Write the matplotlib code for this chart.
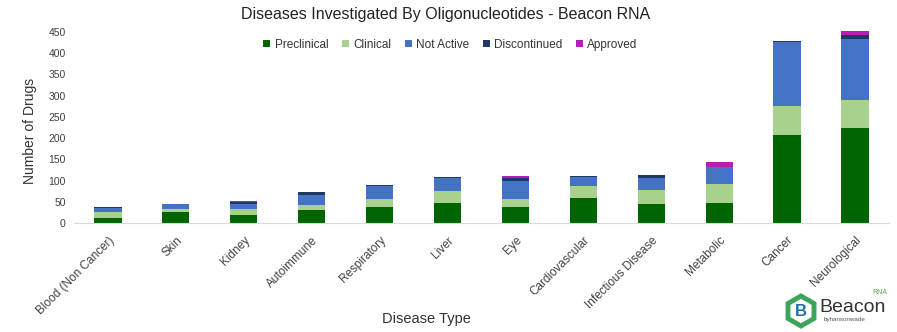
import numpy as np
import matplotlib.pyplot as plt
from matplotlib.patches import RegularPolygon

plt.rcParams['font.family'] = ['Liberation Sans', 'DejaVu Sans']

# data
diseases = ['Blood (Non Cancer)', 'Skin', 'Kidney', 'Autoimmune', 'Respiratory', 'Liver',
            'Eye', 'Cardiovascular', 'Infectious Disease', 'Metabolic', 'Cancer', 'Neurological']
preclinical = [12, 26, 20, 30, 38, 48, 39, 60, 44, 47, 207, 223]
clinical = [13, 8, 14, 13, 19, 27, 18, 27, 34, 44, 68, 67]
not_active = [11, 12, 12, 24, 30, 31, 43, 21, 28, 40, 152, 143]
discontinued = [1, 0, 3, 5, 2, 2, 6, 2, 6, 2, 2, 10]
approved = [0, 0, 2, 0, 0, 0, 4, 0, 0, 11, 0, 8]

series = [('Preclinical', preclinical, '#006400'),
          ('Clinical', clinical, '#A9D18E'),
          ('Not Active', not_active, '#4472C4'),
          ('Discontinued', discontinued, '#1F3864'),
          ('Approved', approved, '#B81DB8')]

fig = plt.figure(figsize=(8.97, 3.32), dpi=100)
ax = fig.add_axes([0.0825, 0.328, 0.9085, 0.579])

x = np.arange(len(diseases))
bottom = np.zeros(len(diseases))
for name, vals, col in series:
    ax.bar(x, vals, width=0.4, bottom=bottom, color=col, label=name)
    bottom += np.array(vals)

ax.set_xlim(-0.5, len(diseases) - 0.5)
ax.set_ylim(0, 452)
ax.set_yticks(np.arange(0, 451, 50))
ax.tick_params(axis='y', length=0, labelsize=7.5, colors='#404040', pad=6)
ax.tick_params(axis='x', length=0, labelsize=8.5, colors='#404040', pad=8)
ax.set_xticks(x)
ax.set_xticklabels(diseases, rotation=45, ha='right', rotation_mode='anchor')

for side in ['top', 'right', 'left']:
    ax.spines[side].set_visible(False)
ax.spines['bottom'].set_color('#d9d9d9')

ax.set_ylabel('Number of Drugs', fontsize=10, color='#333333')
ax.yaxis.set_label_coords(-0.045, 0.48)
ax.set_xlabel('Disease Type', fontsize=10.5, color='#333333')
ax.xaxis.set_label_coords(0.433, -0.46)
fig.text(0.497, 0.955, 'Diseases Investigated By Oligonucleotides - Beacon RNA', fontsize=11.5,
         color='#222222', ha='center', va='center')

ax.legend(loc='upper center', bbox_to_anchor=(0.462, 1.015), ncol=5, frameon=False,
          fontsize=8.5, handlelength=0.6, handleheight=0.6, handletextpad=0.4,
          columnspacing=1.1, labelcolor='#333333')

# logo
hexa = RegularPolygon((801, 21), numVertices=6, radius=15, orientation=0,
                      transform=None, fc='white', ec='#3BA55C', lw=3.5)
fig.patches.append(hexa)
fig.text(801 / 897, 21 / 332, 'B', fontsize=12, color='#1F6FB2', ha='center', va='center',
         weight='bold')
fig.text(853 / 897, 24 / 332, 'Beacon', fontsize=14, color='#333333', ha='center', va='center')
fig.text(880 / 897, 40 / 332, 'RNA', fontsize=5, color='#4CAF50', ha='center', va='center')
fig.text(845 / 897, 12 / 332, 'byhansonwade', fontsize=4.5, color='#555555', ha='center',
         va='center')

fig.savefig('out.png', dpi=100)
